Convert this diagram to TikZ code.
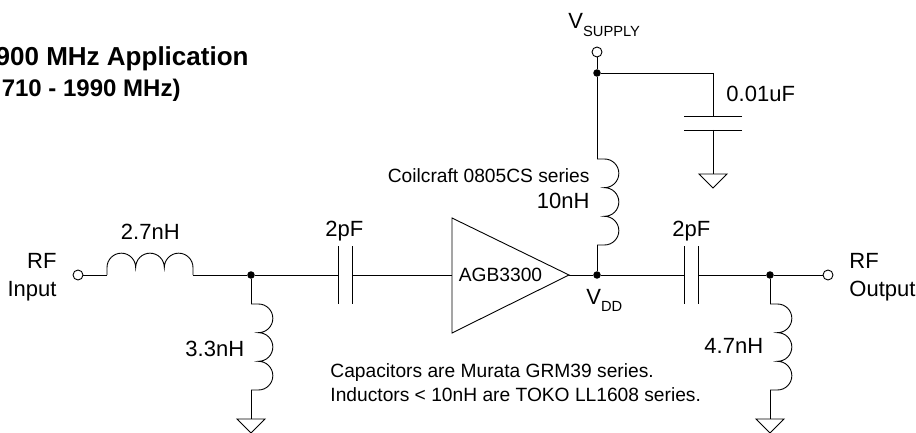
\documentclass[tikz,border=0pt]{standalone}
\usepackage{fontspec}
\setmainfont{Liberation Sans}
\begin{document}
\begin{tikzpicture}[x=1pt,y=1pt,line width=0.9pt]
	\tikzset{term/.style={draw,circle,fill=white,inner sep=0pt,minimum size=10pt},
		dot/.style={draw,circle,fill,inner sep=0pt,minimum size=6.5pt},
		big/.style={inner sep=0pt,font=\fontsize{22}{22}\selectfont},
		small/.style={inner sep=0pt,font=\fontsize{19.2}{19.2}\selectfont},
		coil/.pic={
			\draw (0,0) -- (0,7.5) arc (180:0:14.33) arc (180:0:14.33) arc (180:0:14.33) -- (86,0);
			\coordinate (-in) at (0,0);
			\coordinate (-out) at (86,0);
		},
		cap/.pic={
			\draw (0,29) -- (0,-29) (14,29) -- (14,-29);
			\coordinate (-in) at (0,0);
			\coordinate (-out) at (14,0);
		},
		gnd/.pic={
			\draw (-14,0) -- (14,0) -- (0,-14) -- cycle;
			\coordinate (-top) at (0,0);
		}
	}
	\useasboundingbox (0,0) rectangle (916,432);
	\node [term] (rfin) at (78,157) {};
	\node [dot] (ja) at (251,157) {};
	\node [dot] (jb) at (597,157) {};
	\node [dot] (jc) at (770,157) {};
	\node [dot] (jd) at (597,359) {};
	\node [term] (rfout) at (828,157) {};
	\node [term] (vs) at (597,380) {};
	\coordinate (bend) at (713,359);
	\coordinate (ampin) at (452,157);
	\coordinate (ampout) at (569,157);

	\pic (la) at (107,157) {coil};
	\pic [rotate=-90] (lb) at (251,128) {coil};
	\pic [rotate=-90] (lc) at (597,273) {coil};
	\pic [rotate=-90] (ld) at (770,128) {coil};
	\pic (ca) at (338,157) {cap};
	\pic (cb) at (684,157) {cap};
	\pic [rotate=-90] (cc) at (713,316) {cap};
	\pic (ga) at (251,13) {gnd};
	\pic (gb) at (770,13) {gnd};
	\pic (gc) at (713,258) {gnd};

	\draw (452,214) -- (452,99) -- (569,157) -- cycle;

	\draw (rfin) -- (la-in)
		  (la-out) -- (ja)
		  (ja) -- (ca-in)
		  (ca-out) -- (ampin)
		  (ampout) -- (jb)
		  (jb) -- (cb-in)
		  (cb-out) -- (jc)
		  (jc) -- (rfout)
		  (ja) -- (lb-in)
		  (lb-out) -- (ga-top)
		  (jc) -- (ld-in)
		  (ld-out) -- (gb-top)
		  (jb) -- (lc-out)
		  (lc-in) -- (jd)
		  (jd) -- (vs)
		  (jd) -- (bend)
		  (bend) -- (cc-in)
		  (cc-out) -- (gc-top);

	\node [anchor=base east,inner sep=0pt,font=\bfseries\fontsize{26}{26}\selectfont] (title) at (249,366) {900 MHz Application};
	\node [anchor=base east,inner sep=0pt,font=\bfseries\fontsize{24}{24}\selectfont] (range) at (181,335) {710 - 1990 MHz)};
	\node [big,anchor=base east] (rfa) at (57,164) {RF};
	\node [big,anchor=base east] (rfb) at (57,136) {Input};
	\node [big,anchor=base west] (rfc) at (849,164) {RF};
	\node [big,anchor=base west] (rfd) at (849,136) {Output};
	\node [big,anchor=base west] (vala) at (120.5,193) {2.7nH};
	\node [big,anchor=base west] (valb) at (185,76) {3.3nH};
	\node [big,anchor=base west] (valc) at (325,196) {2pF};
	\node [big,anchor=base west] (vald) at (672,196) {2pF};
	\node [big,anchor=base west] (vale) at (704,79) {4.7nH};
	\node [big,anchor=base west] (valf) at (726,330) {0.01uF};
	\node [big,anchor=base east] (valg) at (590,224) {10nH};
	\node [big,anchor=base west] (vsup) at (568,403) {V\raisebox{-8pt}{\fontsize{14.7}{15}\selectfont SUPPLY}};
	\node [big,anchor=base west] (vdd) at (586,128) {V\raisebox{-7pt}{\fontsize{14.7}{15}\selectfont DD}};
	\node [small,anchor=base] (amp) at (500.5,151) {AGB3300};
	\node [small,anchor=base east] (coilcraft) at (590,250) {Coilcraft 0805CS series};
	\node [small,anchor=base west] (notea) at (330,55) {Capacitors are Murata GRM39 series.};
	\node [small,anchor=base west] (noteb) at (330,31) {Inductors < 10nH are TOKO LL1608 series.};
\end{tikzpicture}
\end{document}
